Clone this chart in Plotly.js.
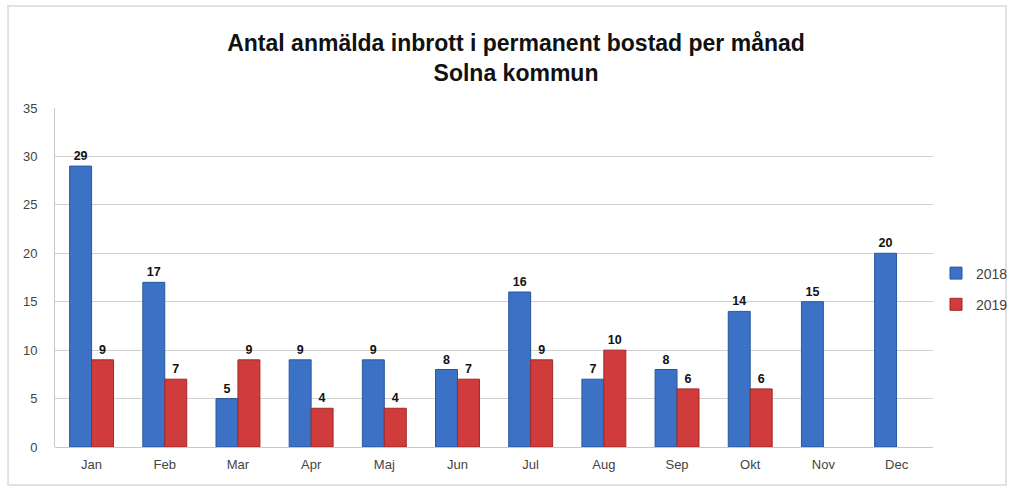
<!DOCTYPE html>
<html>
<head>
<meta charset="utf-8">
<script src="https://cdn.plot.ly/plotly-3.0.1.min.js"></script>
<style>html,body{margin:0;padding:0;background:#fff;}#chart{width:1013px;height:489px;}</style>
</head>
<body>
<div id="chart"></div>
<script>
const months = ['Jan','Feb','Mar','Apr','Maj','Jun','Jul','Aug','Sep','Okt','Nov','Dec'];
const values2018 = [29,17,5,9,9,8,16,7,8,14,15,20];
const values2019 = [9,7,9,4,4,7,9,10,6,6,null,null];
const yTicks = [0,5,10,15,20,25,30,35];

function lbl(v){ return v.map(x => x === null ? '' : String(x)); }
const FONT = 'Liberation Sans, Arial, sans-serif';

const traces = [
  {type:'bar', name:'2018', legendgroup:'a', x:months, y:values2018, text:lbl(values2018), textposition:'outside',
   textfont:{family:FONT, size:12.5, color:'#111', weight:'bold'},
   marker:{color:'#3b72c6', line:{color:'#2a579c', width:1}}, cliponaxis:false},
  {type:'bar', name:'2019', legendgroup:'b', x:months, y:values2019, text:lbl(values2019), textposition:'outside',
   textfont:{family:FONT, size:12.5, color:'#111', weight:'bold'},
   marker:{color:'#d03b3b', line:{color:'#a02828', width:1}}, cliponaxis:false}
];

const layout = {
  width:1013, height:489,
  margin:{l:55, r:0, t:108, b:42},
  paper_bgcolor:'#fff', plot_bgcolor:'#fff',
  barmode:'group', bargap:0.4, bargroupgap:0,
  title:{text:'<b>Antal anmälda inbrott i permanent bostad per månad<br>Solna kommun</b>',
         x:(517-55)/958, xref:'paper', xanchor:'center', yref:'container', y:1-51/489, yanchor:'middle',
         font:{family:FONT, size:23, color:'#111'}},
  xaxis:{domain:[0, 880/958], tickfont:{family:FONT, size:13, color:'#444'},
         showline:false, ticks:'', showgrid:false, automargin:false, ticklabelstandoff:8},
  yaxis:{range:[0,35], tickvals:yTicks, ticktext:yTicks.map(String),
         tickfont:{family:FONT, size:13, color:'#444'},
         showgrid:true, gridcolor:'#d0d0d0', gridwidth:1, zeroline:true, zerolinecolor:'#c8c8c8',
         showline:true, linecolor:'#c8c8c8', ticks:'', ticklabelstandoff:14, automargin:false},
  legend:{x:(938-55)/958, xanchor:'left', y:(447-289)/339, yanchor:'middle',
          font:{family:FONT, size:14, color:'#444'},
          itemwidth:30, tracegroupgap:10, bgcolor:'rgba(0,0,0,0)'},
  showlegend:true,
  shapes:[{type:'rect', xref:'paper', yref:'paper', x0:(8-55)/958, x1:(1008-55)/958, y0:(447-485)/339, y1:(447-6)/339,
           line:{color:'#e2e2e2', width:2}, fillcolor:'rgba(0,0,0,0)', layer:'below'}]
};

Plotly.newPlot('chart', traces, layout, {displayModeBar:false, responsive:false});
</script>
</body>
</html>
